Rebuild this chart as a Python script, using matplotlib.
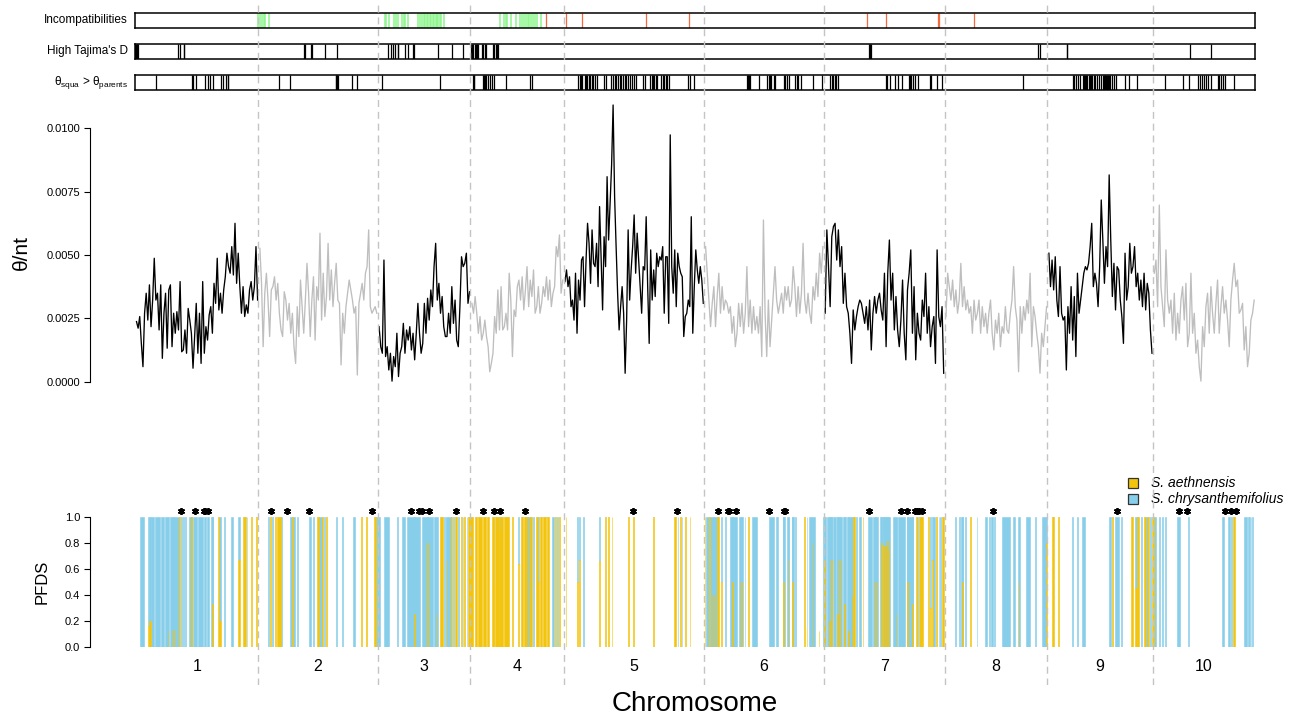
import numpy as np
import matplotlib
matplotlib.use("Agg")
import matplotlib.pyplot as plt
from matplotlib.patches import Rectangle

plt.rcParams['font.family'] = ['Liberation Sans', 'DejaVu Sans']
plt.rcParams['mathtext.fontset'] = 'custom'
plt.rcParams['mathtext.rm'] = 'Liberation Sans'
plt.rcParams['mathtext.it'] = 'Liberation Sans:italic'

# ---------------- data ----------------
chrom_names = ['1', '2', '3', '4', '5', '6', '7', '8', '9', '10']
chrom_ends = [123.4, 242.6, 335.4, 428.5, 569.1, 688.7, 809.5, 912.4, 1017.8, 1120.0]
chrom_starts = [0.0] + chrom_ends[:-1]

# theta per nucleotide, x1000 (per kb), one list per chromosome
theta_chr1 = [2.37, 2.11, 2.57, 1.51, 0.59, 2.70, 3.49, 2.43, 3.82, 2.17, 3.22, 4.87, 3.22, 3.49, 2.04, 3.82, 0.92, 2.70, 3.49, 1.32,
              3.62, 3.82, 1.38, 2.70, 1.91, 2.76, 2.04, 3.95, 1.18, 1.25, 2.04, 1.12, 2.89, 2.43, 1.91, 0.53, 1.78, 3.09, 1.12, 2.70,
              0.72, 3.95, 1.12, 2.17, 1.64, 2.63, 2.96, 1.91, 3.88, 3.09, 4.87, 2.83, 3.49, 2.70, 3.62, 4.14, 5.07, 4.54, 4.28, 5.33,
              4.21, 6.25, 3.88, 5.07, 3.75, 2.70, 3.75, 2.57, 3.03, 2.70, 3.62, 3.95, 3.22, 3.75, 5.33, 3.22]
theta_chr2 = [5.26, 3.88, 1.38, 3.49, 4.28, 3.22, 1.78, 3.62, 3.75, 4.14, 3.22, 3.88, 2.70, 2.04, 1.78, 3.55, 3.22, 2.43, 3.09, 1.91,
              2.70, 1.38, 0.72, 2.96, 1.78, 4.01, 2.96, 1.91, 3.22, 4.67, 3.49, 1.78, 3.22, 4.14, 1.64, 3.75, 3.22, 5.86, 2.43, 4.28,
              2.57, 3.36, 5.46, 3.22, 4.41, 2.96, 3.88, 4.67, 3.22, 3.09, 0.66, 2.70, 1.91, 2.96, 3.49, 4.01, 3.62, 3.22, 2.70, 2.96,
              0.26, 3.09, 3.49, 3.88, 3.22, 4.28, 4.54, 5.99, 2.96, 2.70, 2.83, 2.96, 2.70]
theta_chr3 = [2.17, 1.38, 1.12, 4.80, 0.99, 1.38, 0.46, 1.12, 0.02, 0.99, 0.59, 1.91, 0.20, 1.12, 1.38, 2.30, 1.12, 2.04, 1.64, 2.17,
              1.25, 1.91, 0.86, 1.91, 3.09, 1.91, 1.12, 1.51, 3.09, 1.91, 3.29, 2.43, 3.62, 2.96, 4.54, 5.46, 3.22, 3.88, 2.70, 3.36,
              2.17, 1.78, 1.78, 2.70, 1.91, 3.75, 2.30, 3.22, 1.64, 1.38, 2.96, 4.93, 4.54, 4.67, 5.07, 3.09, 3.55]
theta_chr4 = [3.09, 2.70, 3.36, 2.70, 1.91, 2.57, 1.64, 1.91, 2.43, 1.78, 1.38, 0.39, 0.72, 1.12, 2.57, 1.91, 3.62, 2.04, 3.75, 2.04,
              2.17, 2.70, 2.04, 4.28, 3.22, 0.99, 2.83, 2.57, 3.75, 4.01, 3.22, 4.14, 2.83, 3.62, 4.54, 2.96, 4.01, 3.36, 4.41, 2.70,
              2.96, 3.75, 2.70, 3.09, 3.75, 3.36, 4.14, 3.22, 4.01, 2.96, 3.49, 3.75, 5.33, 4.93, 5.79, 3.49, 4.01]
theta_chr5 = [3.95, 4.41, 3.75, 4.14, 2.96, 3.22, 2.43, 4.28, 1.91, 4.01, 3.22, 4.80, 4.93, 2.96, 4.80, 6.25, 5.46, 3.88, 5.99, 4.67,
              4.54, 5.46, 3.75, 6.91, 4.93, 2.83, 5.72, 4.54, 8.09, 5.59, 7.04, 8.55, 10.92, 7.30, 5.33, 3.49, 2.04, 2.96, 3.75, 2.70,
              0.33, 2.43, 5.99, 3.22, 4.41, 5.33, 6.58, 4.28, 5.86, 4.80, 3.75, 2.70, 4.54, 4.41, 6.51, 3.75, 1.51, 5.20, 3.22, 4.41,
              3.36, 5.07, 4.54, 4.93, 4.80, 5.33, 2.70, 4.93, 4.93, 2.30, 9.74, 4.54, 3.49, 5.20, 2.96, 5.07, 4.54, 4.28, 4.14, 1.78,
              2.57, 2.70, 3.22, 2.96, 6.51, 1.91, 3.75, 5.20, 4.41, 3.88, 4.54, 4.01, 3.09]
theta_chr6 = [5.33, 4.28, 3.22, 2.17, 3.09, 3.75, 2.17, 3.36, 4.28, 2.70, 3.75, 2.83, 3.22, 3.09, 2.70, 2.96, 1.91, 2.57, 1.38, 1.91,
              3.09, 2.17, 3.09, 1.91, 2.70, 4.54, 2.17, 3.22, 1.91, 2.96, 2.04, 2.57, 1.91, 2.96, 0.99, 6.38, 2.70, 0.99, 3.22, 1.38,
              2.43, 3.49, 4.54, 3.22, 2.70, 3.09, 3.49, 2.70, 3.75, 3.22, 3.75, 2.96, 3.22, 4.54, 3.75, 2.57, 3.75, 2.70, 3.49, 5.46,
              3.22, 2.70, 3.49, 2.70, 2.30, 3.75, 3.22, 4.28, 3.36, 5.07, 4.28, 5.33]
theta_chr7 = [2.70, 5.99, 4.54, 2.96, 5.72, 6.12, 6.25, 4.80, 5.99, 4.54, 5.33, 3.09, 4.28, 2.96, 2.70, 1.91, 0.72, 2.83, 2.04, 2.57,
              2.96, 3.22, 3.09, 2.70, 2.30, 2.96, 2.04, 3.22, 1.25, 2.70, 3.36, 2.70, 3.22, 3.49, 2.83, 2.43, 4.28, 1.38, 4.28, 5.59,
              3.22, 4.28, 2.04, 3.36, 2.04, 1.38, 2.43, 4.01, 1.91, 0.86, 3.62, 4.28, 5.20, 1.91, 3.75, 0.86, 2.70, 1.91, 1.64, 3.22,
              2.57, 4.28, 1.91, 2.96, 1.38, 2.17, 2.57, 0.72, 5.20, 2.57, 2.17, 2.96, 0.33]
theta_chr8 = [2.57, 4.28, 3.75, 3.22, 4.01, 2.96, 3.62, 2.70, 3.22, 4.67, 2.96, 3.75, 2.83, 3.22, 2.70, 2.96, 1.91, 3.22, 2.43, 2.70,
              3.22, 1.91, 2.96, 2.17, 2.70, 1.91, 2.70, 3.22, 1.91, 1.25, 2.43, 1.91, 2.70, 1.38, 2.17, 1.91, 2.96, 2.04, 1.91, 2.70,
              3.22, 4.54, 2.96, 2.43, 0.39, 2.96, 1.91, 2.96, 2.43, 3.22, 2.70, 4.28, 1.38, 2.96, 2.57, 1.91, 1.38, 0.33, 1.91, 1.38,
              2.17, 2.96]
theta_chr9 = [5.07, 3.75, 4.80, 3.62, 4.93, 3.22, 2.57, 4.54, 2.70, 2.43, 2.57, 0.46, 2.96, 1.91, 3.75, 1.64, 3.36, 0.99, 4.28, 2.70,
              3.22, 3.75, 4.28, 4.54, 4.41, 4.67, 5.33, 6.25, 3.75, 4.28, 3.88, 2.96, 4.54, 7.17, 5.59, 3.88, 5.33, 4.54, 8.16, 5.59,
              3.36, 4.67, 2.83, 4.54, 4.41, 3.22, 2.57, 1.51, 5.07, 3.22, 3.75, 5.46, 4.28, 4.54, 5.33, 3.75, 4.28, 3.22, 4.01, 2.96,
              4.28, 2.83, 3.88, 3.49, 2.04, 1.12]
theta_chr10 = [4.28, 4.80, 2.96, 6.97, 3.75, 2.96, 2.17, 5.20, 3.22, 2.70, 3.22, 1.91, 3.49, 1.64, 2.70, 1.91, 3.22, 3.75, 2.43, 3.88,
               1.38, 1.91, 4.28, 1.91, 2.70, 1.12, 1.64, 0.59, 0.02, 2.17, 1.38, 2.96, 3.49, 1.91, 3.75, 2.70, 1.91, 3.09, 4.01, 1.91,
               2.96, 3.75, 2.70, 3.22, 2.43, 1.38, 3.22, 4.01, 4.67, 3.75, 4.01, 2.70, 2.83, 3.09, 1.25, 2.17, 0.59, 1.12, 2.43, 2.70,
               3.22]
theta_by_chrom = [theta_chr1, theta_chr2, theta_chr3, theta_chr4, theta_chr5,
                  theta_chr6, theta_chr7, theta_chr8, theta_chr9, theta_chr10]

# positional tracks (cumulative genome position)
incompat_green = [123.4, 124.8, 126.6, 128.5, 129.5, 134.3, 249.5, 251.4, 253.9, 259.0, 260.8, 263.0, 267.0, 268.5, 270.3,
                  273.2, 283.0, 284.8, 286.6, 288.8, 290.3, 291.7, 293.2, 294.6, 296.1, 297.5, 299.0, 300.5, 301.9, 303.4,
                  304.8, 306.3, 308.5, 364.8, 368.8, 370.6, 371.7, 376.1, 380.5, 384.8, 387.0, 388.8, 390.6, 392.5, 394.3,
                  396.1, 397.9, 399.7, 402.3, 405.9]
incompat_red = [410.6, 431.4, 446.6, 511.4, 553.5, 732.4, 751.3, 802.5, 804.4, 838.5]
tajima_high = [0.4, 1.0, 1.6, 2.2, 2.8, 43.4, 44.8, 48.5, 49.2, 168.5, 169.9, 175.7, 176.5, 189.5, 202.3, 252.8, 255.7, 258.3,
               259.7, 262.6, 263.4, 269.5, 272.8, 277.5, 279.4, 302.6, 316.5, 328.1, 335.7, 337.2, 338.3, 339.7, 340.8, 342.3,
               343.4, 347.0, 348.1, 349.5, 351.4, 357.5, 359.0, 360.5, 361.9, 363.0, 733.5, 735.3, 736.4, 903.0, 904.7, 931.6,
               932.4, 1054.5, 1075.6]
theta_squa_high = [21.2, 56.5, 57.9, 60.8, 70.3, 72.8, 74.6, 78.3, 86.3, 88.1, 90.6, 92.5, 93.2, 143.7, 155.0, 200.5, 201.2,
                   202.3, 203.0, 216.8, 222.3, 247.4, 304.8, 337.9, 338.6, 339.4, 347.7, 348.8, 349.9, 351.0, 352.5, 354.6,
                   356.5, 358.6, 371.0, 395.0, 396.5, 443.4, 444.8, 445.9, 447.4, 449.5, 451.0, 452.1, 453.5, 455.4, 456.8,
                   458.3, 459.7, 461.5, 468.8, 471.0, 476.1, 477.9, 479.7, 481.2, 483.0, 484.5, 485.9, 487.7, 489.5, 491.0,
                   493.2, 495.4, 497.2, 499.0, 500.5, 507.7, 509.9, 515.0, 516.5, 517.9, 519.4, 520.8, 522.3, 526.3, 527.7,
                   529.2, 530.6, 532.1, 533.5, 553.2, 555.0, 559.2, 611.8, 612.8, 613.8, 614.7, 623.9, 632.0, 633.8, 635.3,
                   636.4, 638.5, 640.0, 649.1, 650.2, 651.6, 653.5, 660.0, 661.8, 662.9, 665.5, 677.5, 687.3, 695.0, 696.5,
                   698.0, 699.5, 701.0, 702.5, 750.5, 751.6, 754.5, 759.6, 762.5, 767.3, 773.8, 775.3, 776.4, 778.2, 780.0,
                   782.5, 794.5, 796.4, 801.8, 807.3, 888.4, 937.5, 939.3, 941.1, 942.9, 944.7, 947.6, 948.7, 949.8, 951.0,
                   952.0, 953.5, 954.9, 955.8, 956.7, 958.5, 960.0, 961.5, 963.6, 965.8, 967.6, 968.5, 969.5, 970.4, 971.3,
                   972.2, 973.1, 974.0, 974.9, 976.7, 978.9, 981.1, 990.2, 993.8, 1001.8, 1029.5, 1048.4, 1053.8, 1062.9,
                   1065.1, 1067.3, 1069.1, 1070.9, 1072.7, 1076.4, 1082.5, 1084.4, 1086.2, 1088.0, 1089.8, 1098.5]

# PFDS windows: start, end, fraction S. aethnensis, fraction S. chrysanthemifolius
pfds_start = [
    5.0, 13.0, 14.0, 15.5, 19.7, 26.0, 30.3, 32.5, 35.0, 38.0, 44.3, 45.7, 47.7, 50.0, 54.0, 56.3, 57.7, 63.0, 69.0, 72.0,
    76.0, 77.0, 83.0, 84.3, 89.0, 96.0, 103.3, 108.3, 111.7, 116.3, 121.0,
    133.0, 135.0, 137.0, 140.3, 142.3, 146.3, 155.0, 157.0, 158.3, 162.3, 174.0, 178.0, 182.3, 184.3, 187.3, 189.0, 191.0,
    201.3, 207.3, 217.7, 226.3, 231.3, 239.3, 241.0,
    242.3, 249.0, 262.3, 266.7, 271.7, 279.3, 286.7, 292.0, 292.7, 299.0, 300.7, 305.0, 308.7, 310.7, 311.3, 316.0, 318.0,
    320.3, 322.7, 326.0, 327.7, 329.3, 331.7, 333.3,
    340.0, 343.3, 348.0, 352.0, 357.3, 358.7, 360.0, 364.0, 365.0, 369.0, 377.3, 382.7, 386.0, 389.3, 391.3, 392.0, 394.7,
    395.3, 398.0, 400.7, 403.3, 404.7, 408.3, 412.0, 416.7, 420.0, 421.7, 424.0, 430.7,
    442.0, 444.0, 448.0, 464.0, 470.0, 473.3, 476.7, 493.3, 498.0, 518.3, 539.3, 542.7, 545.0, 546.7, 550.0, 554.7,
    569.7, 571.0, 574.3, 575.0, 578.3, 582.3, 585.7, 590.3, 595.0, 597.0, 603.7, 606.3, 609.7, 613.0, 616.7, 633.7, 641.0,
    642.3, 647.7, 648.3, 652.3, 653.7, 656.7, 657.3, 660.3, 669.0, 671.7, 673.7, 676.7, 683.7,
    687.7, 689.0, 691.7, 694.3, 696.0, 698.3, 701.7, 702.3, 704.3, 707.7, 709.0, 711.7, 713.3, 716.7, 718.3, 721.0, 724.3,
    727.7, 732.7, 738.3, 740.3, 745.0, 746.3, 748.3, 748.3, 750.3, 752.3, 753.7, 757.7, 761.7, 763.0, 771.7, 772.3, 777.0,
    781.0, 782.3, 783.7, 793.0, 795.0, 797.3, 798.3, 801.0, 803.7, 805.0, 806.7,
    820.3, 824.3, 825.7, 827.0, 830.3, 835.0, 841.7, 850.0, 853.7, 856.3, 859.0, 867.0, 877.7, 883.0, 883.7, 891.0, 900.0,
    907.3, 911.0,
    916.7, 923.0, 937.0, 942.3, 947.0, 974.3, 976.7, 979.7, 986.3, 996.3, 999.7, 1002.3, 1006.0, 1009.0, 1011.3, 1013.0,
    1015.0, 1017.3,
    1019.0, 1024.3, 1027.0, 1030.3, 1041.7, 1053.3, 1087.0, 1093.0, 1096.3, 1098.3, 1109.0, 1113.0, 1114.3, 1115.7, 1117.0]
pfds_end = [
    9.0, 14.0, 15.5, 19.0, 25.0, 29.3, 34.3, 33.3, 44.3, 38.6, 45.0, 47.0, 49.0, 51.0, 57.0, 57.0, 61.7, 68.0, 71.0, 73.7,
    78.3, 77.7, 84.3, 85.7, 90.0, 97.7, 104.7, 111.0, 112.3, 117.0, 122.0,
    134.3, 136.3, 138.3, 141.0, 146.3, 147.3, 157.0, 158.3, 159.7, 163.0, 176.0, 178.7, 183.7, 186.7, 188.0, 190.3, 192.3,
    202.0, 208.0, 220.3, 227.0, 232.0, 240.7, 241.7,
    245.0, 254.3, 263.0, 270.3, 285.3, 280.0, 298.0, 292.7, 293.3, 302.7, 301.3, 307.7, 310.0, 311.3, 315.7, 317.3, 319.3,
    321.7, 324.3, 327.0, 328.3, 330.0, 332.3, 338.3,
    342.0, 346.7, 350.7, 354.0, 358.7, 359.3, 364.0, 365.0, 367.7, 374.0, 378.0, 384.0, 388.0, 390.7, 395.3, 393.3, 395.3,
    396.7, 399.3, 403.3, 404.0, 406.7, 410.7, 414.0, 418.7, 421.3, 423.3, 425.3, 431.3,
    443.0, 445.3, 448.7, 464.7, 470.7, 474.0, 477.3, 494.0, 499.3, 519.0, 541.0, 543.3, 545.7, 547.3, 550.7, 555.3,
    570.3, 573.7, 575.0, 582.3, 579.0, 583.7, 587.0, 591.0, 602.3, 598.3, 607.7, 607.0, 610.3, 613.7, 622.0, 639.0, 641.7,
    643.0, 650.3, 649.0, 654.3, 654.3, 659.0, 658.0, 661.0, 670.3, 672.3, 680.3, 677.3, 684.3,
    691.0, 689.7, 696.7, 695.0, 696.7, 701.0, 706.7, 703.0, 705.0, 711.0, 709.7, 717.7, 714.0, 717.3, 719.7, 721.7, 726.3,
    728.3, 736.7, 743.0, 741.0, 747.0, 747.0, 755.0, 749.0, 751.0, 753.0, 754.3, 762.3, 762.3, 769.7, 778.3, 773.0, 777.7,
    781.7, 783.3, 788.3, 794.3, 795.7, 798.0, 799.7, 802.3, 804.3, 805.7, 808.7,
    821.0, 825.0, 828.3, 827.7, 831.0, 835.7, 842.3, 851.7, 855.0, 857.7, 860.3, 875.0, 879.7, 885.0, 884.3, 895.0, 900.7,
    911.0, 911.7,
    918.7, 924.0, 938.3, 943.0, 950.3, 975.7, 977.7, 984.3, 987.0, 998.3, 1001.7, 1003.7, 1006.7, 1011.0, 1012.7, 1014.3,
    1015.7, 1018.7,
    1020.7, 1025.0, 1027.7, 1031.0, 1045.0, 1054.0, 1089.0, 1095.0, 1097.0, 1099.7, 1111.7, 1113.7, 1115.0, 1116.3, 1117.7]
pfds_aeth = [
    0, .16, .20, 0, 0, 0, 0, .12, 0, .13, 1, 0, 0, 0, 0, 1, 0, 0, 0, 0, 0, .33, 1, .2, 0, 0, .67, 1, 0, 1, 1,
    0, 1, 0, 1, 1, 0, 0, 1, 0, 0, 0, 0, 1, 0, 1, 0, 1, 0, 0, 0, 1, 1, 1, 0,
    0, 0, 0, 0, 0, .25, 0, .8, .3, 0, .25, 1, 0, .67, 0, 1, 0, 1, 0, 1, 0, 1, 0, 1,
    1, 1, 1, 1, 1, .5, 1, .9, 1, 1, 1, .64, 1, 1, 0, 1, .37, 1, 0, 1, .5, 1, 1, 1, 0, 1, 0, 1, 1,
    .5, .67, 0, .66, 1, 1, 1, 1, 1, 1, 1, 0, 1, 0, 1, 1,
    1, 0, 1, 0, .4, 1, .5, 0, 0, .5, 0, .5, 0, 1, 0, 0, 0, 0, 0, .5, 0, .67, 0, .5, 0, 1, .15, 0, .8, .12,
    0, .67, 0, .2, .67, 0, 0, .25, .67, 0, .33, 0, .12, .4, 1, 0, 0, 1, 0, 0, .5, 0, .8, 0, .78, .78, .82, .75, 0, .25,
    0, 0, .5, .33, 1, 0, 1, 1, .3, .67, 0, 1, 0, 0, 1,
    0, 0, 0, .5, 0, 1, 0, 0, 0, 0, 0, 0, 0, 0, .5, 0, 0, 0, .8,
    1, 1, 0, 0, 0, 0, 1, 0, 0, 1, .45, 1, 0, 1, 0, 1, 0, 1,
    0, 0, 0, 0, 0, 0, 0, 0, 0, 1, 0, 0, 0, 0, 0]
pfds_chrys = [
    1, .84, .80, 1, 1, 1, 1, .88, 1, .87, 0, 1, 1, 1, 1, 0, 1, 1, 1, 1, 1, .67, 0, .8, 1, 1, .33, 0, 1, 0, 0,
    1, 0, 1, 0, 0, 1, 1, 0, 1, 1, 1, 1, 0, 1, 0, 1, 0, 1, 1, 1, 0, 0, 0, 1,
    1, 1, 1, 1, 1, .75, 1, .2, .7, 1, .75, 0, 1, .33, 1, 0, 1, 0, 1, 0, 1, 0, 1, 0,
    0, 0, 0, 0, 0, .5, 0, .1, 0, 0, 0, .36, 0, 0, 1, 0, .63, 0, 1, 0, .5, 0, 0, 0, 1, 0, 1, 0, 0,
    .5, .33, 1, .34, 0, 0, 0, 0, 0, 0, 0, 1, 0, 1, 0, 0,
    0, 1, 0, 1, .6, 0, .5, 1, 1, .5, 1, .5, 1, 0, 1, 1, 1, 1, 1, .5, 1, .33, 1, .5, 1, 0, .85, 1, .2, 0,
    1, .33, 1, .8, .33, 1, 1, .75, .33, 1, .67, 1, .88, .6, 0, 1, 1, 0, 1, 1, .5, 1, .2, 1, .22, .22, .18, .25, 1, .75,
    1, 1, .5, .67, 0, 1, 0, 0, .7, .33, 1, 0, 1, 1, 0,
    1, 1, 1, .5, 1, 0, 1, 1, 1, 1, 1, 1, 1, 1, .5, 1, 1, 1, .2,
    0, 0, 1, 1, 1, 1, 0, 1, 1, 0, .55, 0, 1, 0, 1, 0, 1, 0,
    1, 1, 1, 1, 1, 1, 1, 1, 1, 0, 1, 1, 1, 1, 1]
significant_pos = [45.7, 60.3, 69.0, 70.3, 73.0, 136.3, 151.7, 173.7, 237.0, 276.0, 283.5, 287.0, 294.0, 321.0, 348.3,
                   358.7, 365.3, 390.0, 498.0, 541.7, 583.0, 593.0, 594.3, 601.0, 633.7, 649.0, 650.3, 733.7, 766.3,
                   772.3, 780.0, 782.3, 784.3, 787.0, 858.4, 982.3, 1043.7, 1051.7, 1090.3, 1095.7, 1101.0]

theta_ticks = [0.0, 0.0025, 0.005, 0.0075, 0.01]
pfds_ticks = [0.0, 0.2, 0.4, 0.6, 0.8, 1.0]
species = ['S. aethnensis', 'S. chrysanthemifolius']

# ---------------- styling ----------------
YELLOW = '#F2C40D'
BLUE = '#87CEEB'
GREEN = '#8CF58C'
RED = '#F26A3D'
GREY = '#BEBEBE'

W, H = 1294, 716
fig = plt.figure(figsize=(W / 100, H / 100), dpi=100)
fig.patch.set_facecolor('white')

X0, X1 = 135, 1255
XLIM = (0, 1120)


def axes_px(x0, y0, x1, y1):
    return fig.add_axes([x0 / W, 1 - y1 / H, (x1 - x0) / W, (y1 - y0) / H])


def strip(y0, y1, groups, label):
    ax = axes_px(X0, y0, X1, y1)
    ax.set_xlim(*XLIM)
    ax.set_ylim(0, 1)
    for pos, col, lw in groups:
        ax.vlines(pos, 0, 1, colors=col, lw=lw)
    ax.set_xticks([])
    ax.set_yticks([])
    for s in ax.spines.values():
        s.set_linewidth(1.1)
        s.set_color('black')
    fig.text(128 / W, 1 - (y0 + y1) / 2 / H, label, ha='right', va='center', fontsize=8.5)
    return ax


strip(12.5, 28, [(incompat_green, GREEN, 1.1), (incompat_red, RED, 0.9)], 'Incompatibilities')
strip(43.5, 59, [(tajima_high, 'black', 0.9)], "High Tajima's D")
strip(74.5, 90, [(theta_squa_high, 'black', 0.9)],
      r'$\mathrm{\theta}_{\mathrm{squa}}$ > $\mathrm{\theta}_{\mathrm{parents}}$')

# ---------------- theta line panel ----------------
ax = axes_px(X0, 97.9, X1, 394.3)
ax.set_xlim(*XLIM)
ax.set_ylim(-0.0005, 0.0112)
ax.patch.set_alpha(0)
for i, vals in enumerate(theta_by_chrom):
    xs = np.linspace(chrom_starts[i] + 1.5, chrom_ends[i] - 0.8, len(vals))
    ax.plot(xs, np.array(vals) / 1000.0, color='black' if i % 2 == 0 else GREY, lw=0.95)
for side in ['top', 'right', 'bottom']:
    ax.spines[side].set_visible(False)
ax.spines['left'].set_position(('outward', 45 * 0.72))
ax.spines['left'].set_bounds(0, 0.01)
ax.spines['left'].set_linewidth(0.8)
ax.set_xticks([])
ax.set_yticks(theta_ticks)
ax.set_yticklabels(['%.4f' % t for t in theta_ticks])
ax.tick_params(axis='y', length=4, width=0.8, pad=3, labelsize=8)

# ---------------- PFDS panel ----------------
ax2 = axes_px(X0, 504.4, X1, 646.7)
ax2.set_xlim(*XLIM)
ax2.set_ylim(0, 1.1)
ax2.patch.set_alpha(0)
ps = np.array(pfds_start)
pe = np.array(pfds_end)
pa = np.array(pfds_aeth, dtype=float)
pc = np.array(pfds_chrys, dtype=float)
ax2.bar(ps, pc, bottom=pa, width=pe - ps, align='edge', color=BLUE, edgecolor=BLUE, lw=0.4)
ax2.bar(ps, pa, width=pe - ps, align='edge', color=YELLOW, edgecolor=YELLOW, lw=0.4)
ax2.plot(significant_pos, [1.051] * len(significant_pos), ls='none', marker=(6, 2, 0), ms=5.0, mew=1.3,
         color='black', clip_on=False)
for side in ['top', 'right', 'bottom']:
    ax2.spines[side].set_visible(False)
ax2.spines['left'].set_position(('outward', 45 * 0.72))
ax2.spines['left'].set_bounds(0, 1)
ax2.spines['left'].set_linewidth(0.8)
ax2.set_yticks(pfds_ticks)
ax2.set_yticklabels(['%.1f' % t for t in pfds_ticks])
ax2.tick_params(axis='y', length=4, width=0.8, pad=3, labelsize=8)
mids = [(a + b) / 2 for a, b in zip(chrom_starts, chrom_ends)]
ax2.set_xticks(mids)
ax2.set_xticklabels(chrom_names)
ax2.tick_params(axis='x', length=0, pad=9, labelsize=11.5)

# ---------------- labels ----------------
fig.text(21 / W, 1 - 253 / H, 'θ/nt', rotation=90, ha='center', va='center', fontsize=15)
fig.text(42 / W, 1 - 582 / H, 'PFDS', rotation=90, ha='center', va='center', fontsize=12)
fig.text(695 / W, 1 - 704 / H, 'Chromosome', ha='center', va='center', fontsize=20)

# legend
for k, (name, col) in enumerate(zip(species, [YELLOW, BLUE])):
    yc = 483.3 + 16 * k
    fig.add_artist(Rectangle((1127.5 / W, 1 - (yc + 5) / H), 10 / W, 10 / H, transform=fig.transFigure,
                             facecolor=col, edgecolor='#333333', lw=0.9))
    fig.text(1151 / W, 1 - yc / H, name, ha='left', va='center', fontsize=10, style='italic')

# ---------------- chromosome dividers ----------------
ov = axes_px(X0, 5, X1, 685)
ov.set_xlim(*XLIM)
ov.set_ylim(0, 1)
ov.axis('off')
ov.patch.set_alpha(0)
ov.set_zorder(10)
ov.vlines(chrom_ends[:-1], 0, 1, colors='#C4C4C4', lw=1.0, linestyles=(0, (5, 3.5)))

fig.savefig('out.png', dpi=100)
